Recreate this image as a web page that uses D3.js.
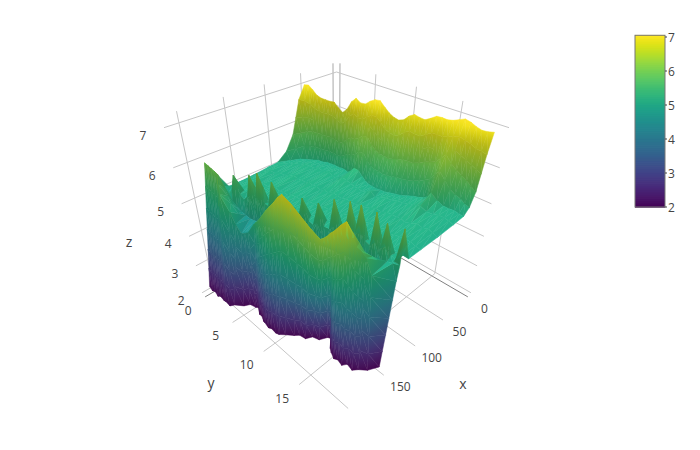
<!DOCTYPE html>
<html><head><meta charset="utf-8">
<script src="https://cdn.jsdelivr.net/npm/d3@7"></script>
<style>html,body{margin:0;padding:0;background:#fff}svg{display:block}text{font-family:"Open Sans",sans-serif;fill:#444}</style>
</head><body><svg id="c" width="700" height="450"></svg>
<script>
const yVals=[0,.5,1,1.5,2,2.5,3,3.5,4,4.5,5,5.5,6,6.5,7,7.5,8,8.5,9,9.5,10,10.5,11,11.5,12,12.5,13,13.5,14,14.5,15,15.5,16,16.5,17,17.5,18,18.5,19];
const xTicks=[0,50,100,150], xGrid=[0,50,100,150,200];
const yTicks=[0,5,10,15];
const zTicks=[2,3,4,5,6,7];
// back wall
const backX=[50,49,48,47,46,44.5,43.5,42,41,40,39,38,37,36,34.5,33.5,32.5,31,30,29,28,27,26,25,24,23,21.5,20.5,19,18,17,16,15,14,12.5,11.5,10.5,9.5,8];
const wallWidth=[45,32,22,18,15,13,12,11,11,12,13,14,16,18,20,22,22,23,25,27,28,29,30,30,30,28,27,25,24,24,24,27,31,28,26,25,24,26,28];
const wallFrac=[0,.2,.45,.7,1];
const wallZ0=[7.0,7.02,6.92,6.8,6.75,6.73,6.72,6.72,6.6,6.5,6.62,6.85,6.97,6.88,6.88,6.98,7.05,7.05,6.92,6.8,6.72,6.68,6.72,6.85,6.92,6.88,6.85,6.92,7.0,7.0,6.98,7.0,7.05,7.1,7.05,6.98,6.93,6.93,6.95];
const wallZ1=[6.65,6.62,6.55,6.45,6.4,6.38,6.37,6.36,6.28,6.2,6.3,6.48,6.58,6.5,6.5,6.6,6.68,6.66,6.55,6.42,6.36,6.32,6.36,6.48,6.54,6.5,6.48,6.55,6.62,6.62,6.6,6.64,6.68,6.72,6.66,6.6,6.52,6.5,6.45];
const wallZ2=[5.72,5.75,5.8,5.82,5.8,5.78,5.76,5.76,5.72,5.68,5.74,5.85,5.95,5.95,6.02,6.12,6.15,5.95,5.85,5.8,5.78,5.75,5.78,5.82,5.85,5.84,5.82,5.86,5.92,5.95,6.0,6.15,6.3,6.1,5.95,5.85,5.75,5.65,5.55];
const wallZ3=[5.3,5.35,5.4,5.42,5.4,5.38,5.36,5.36,5.34,5.32,5.35,5.42,5.5,5.52,5.6,5.72,5.75,5.55,5.45,5.42,5.4,5.38,5.38,5.4,5.42,5.4,5.4,5.42,5.46,5.52,5.6,5.78,5.95,5.72,5.5,5.4,5.32,5.25,5.2];
const wallZ4=[5.08,5.06,5.05,5.04,5.04,5.05,5.03,5.04,5.03,5.05,5.04,5.06,5.08,5.07,5.14,5.3,5.28,5.15,5.08,5.05,5.04,5.03,5.05,5.04,5.06,5.05,5.04,5.06,5.08,5.1,5.14,5.25,5.45,5.25,5.12,5.08,5.06,5.05,5.05];
// plateau
const plateauFrac=[.2,.5,.8,1];
const plateauA=[5.06,5.1,5.07,5.11,5.08,5.12,5.09,5.06,5.11,5.08,5.1,5.13,5.09,5.07,5.12,5.2,5.16,5.11,5.08,5.1,5.07,5.11,5.18,5.06,5.1,5.12,5.08,5.1,5.07,5.11,5.13,5.18,5.25,5.12,5.08,5.1,5.07,5.06,5.02];
const plateauB=[5.02,5.09,5.12,5.07,5.1,5.06,5.11,5.13,5.08,5.1,5.07,5.12,5.09,5.11,5.06,5.1,5.08,5.12,5.1,5.07,5.11,5.09,5.06,5.12,5.08,5.1,5.13,5.07,5.1,5.09,5.06,5.11,5.08,5.1,5.12,5.07,5.09,5.05,5.0];
const plateauC=[5.0,5.07,5.1,5.12,5.06,5.11,5.08,5.1,5.13,5.07,5.09,5.06,5.12,5.1,5.08,5.05,5.11,5.09,5.06,5.12,5.08,5.11,5.07,5.09,5.12,5.06,5.1,5.08,5.11,5.07,5.09,5.12,5.06,5.1,5.08,5.11,5.07,5.04,5.0];
const plateauD=[5.0,5.06,5.08,5.1,5.07,5.09,5.06,5.1,5.08,5.06,5.1,5.07,5.09,5.11,5.06,5.08,5.1,5.07,5.09,5.06,5.1,5.08,5.06,5.1,5.07,5.09,5.06,5.1,5.08,5.06,5.09,5.07,5.1,5.06,5.08,5.06,5.05,5.03,5.0];
// spike row
const spikeX=[172,171,170,169,168,167,166,165,164,163,162,161,160,158,157,155,154,152,150,149,147,146,144,143,141,140,139,138,137,136,135,135,134,134,133,133,132,132,131];
const spikeZ=[5.4,5.15,5.02,5.12,5.6,5.12,5.0,5.15,5.78,5.2,5.92,5.15,5.12,5.82,5.12,5.02,5.45,5.05,5.05,5.65,5.08,5.02,5.65,5.08,5.05,5.88,5.1,5.08,5.98,5.25,6.0,5.15,5.08,6.0,5.15,5.85,5.1,5.05,5.9];
const valleyX=[180,178,176,174,173,172,171,170,169,168,167,166,165,163,162,160,159,157,155,154,152,151,149,148,146,145,144,143,142,141,140,140,139,139,138,138,137,136,133];
const valleyZ=[5.7,5.5,5.3,5.1,4.9,4.8,4.7,4.65,4.6,4.6,4.6,4.6,4.6,4.6,4.6,4.6,4.6,4.6,4.6,4.6,4.6,4.6,4.6,4.6,4.6,4.6,4.6,4.6,4.6,4.6,4.6,4.65,4.7,4.8,4.9,4.95,5.0,5.02,5.0];
// front crest
const crestX=[185,185,185,185,185,190,194,192,191,190,189,189,188,191,194,195,196,197,198,197,196.5,197,198,199,200,199,198,197,196,195,192,190,187,180,175,169,164.5,163,136];
const crestY=[0,.5,1,1.5,2,2.6,3.2,4.2,4.7,5.3,5.7,6.3,7.2,8,8.8,9.5,10.2,10.9,11.6,12,12.45,13.4,14.35,15.1,15.8,16.6,16.85,17.1,17.3,17.5,17.6,17.7,17.95,17.9,17.9,17.95,18,18.5,19];
const crestZ=[5.9,5.88,5.85,5.83,5.8,5.65,5.5,5.1,4.8,4.6,4.65,4.75,5.1,5.3,5.5,5.72,5.95,6.15,6.35,6.5,6.62,6.55,6.45,6.38,6.32,6.2,6.25,6.32,6.4,6.45,6.5,6.55,6.62,6.3,5.9,5.7,5.5,5.1,4.6];
// front rim
const rimX=[207,207,207,207,207,206,207,206,203,195,190,187,187,190,191,193,195,195,195,194,194,190,183,180,177,172,168,161,161,168,172,174,174,174,172,171,168,161,150];
const rimZ=[2.2,2.12,2.2,2.1,2.2,2.1,2.18,2.1,2.18,2.1,2.16,2.1,2.18,2.08,2.14,2.08,2.16,2.08,2.16,2.08,2.14,2.16,2.1,2.16,2.08,2.16,2.08,2.14,2.2,2.1,2.14,2.08,2.16,2.08,2.2,2.08,2.16,2.1,2.1];

// ---------- grid rows ----------
const n=yVals.length;
const wallRows=[wallZ0,wallZ1,wallZ2,wallZ3,wallZ4].map((z,i)=>({x:backX.map((b,c)=>b+wallWidth[c]*wallFrac[i]),y:yVals,z}));
const plateauRows=[plateauA,plateauB,plateauC,plateauD].map((z,i)=>({x:backX.map((b,c)=>{const s=b+wallWidth[c];return s+(spikeX[c]-10-s)*plateauFrac[i];}),y:yVals,z}));
const rows=[...wallRows,...plateauRows,
 {x:spikeX,y:yVals,z:spikeZ},{x:valleyX,y:yVals,z:valleyZ},{x:crestX,y:crestY,z:crestZ},{x:rimX,y:yVals,z:rimZ}];

// ---------- camera ----------
const sx=d3.scaleLinear([-5.75,215],[-1,1]);
const sy=d3.scaleLinear([-.52,19.58],[-1,1]);
const sz=d3.scaleLinear([1.936,7.275],[-1,1]);
const CX=336.5,CY=217,F=465,D=4.33;
const s2=Math.SQRT2,s3=Math.sqrt(3),s6=Math.sqrt(6);
function proj(a,b,c){const d=D-(a+b+c)/s3;return [CX+F*((b-a)/s2)/d, CY-F*((2*c-a-b)/s6)/d, d];}
const P=(x,y,z)=>proj(sx(x),sy(y),sz(z));

const svg=d3.select('#c');
const defs=svg.append('defs');
const color=d3.scaleSequential(d3.interpolateViridis).domain([2,7.05]).clamp(true);

// ---------- grid lines ----------
const gridColor='#c6c6c6', wallZero='#a8a8a8', floorZero='#808080';
const lines=[];
const [xa,xb]=sx.domain(),[ya,yb]=sy.domain(),[za,zb]=sz.domain();
xGrid.forEach(v=>{
  lines.push([P(v,ya,za),P(v,yb,za),v===0?floorZero:gridColor]);
  lines.push([P(v,ya,za),P(v,ya,zb),v===0?wallZero:gridColor]);});
yTicks.forEach(v=>{
  lines.push([P(xa,v,za),P(xb,v,za),v===0?floorZero:gridColor]);
  lines.push([P(xa,v,za),P(xa,v,zb),v===0?wallZero:gridColor]);});
zTicks.forEach(v=>{
  lines.push([P(xb,ya,v),P(xa,ya,v),gridColor]);
  lines.push([P(xa,ya,v),P(xa,yb,v),gridColor]);});
svg.append('g').selectAll('line').data(lines).join('line')
 .attr('x1',d=>d[0][0]).attr('y1',d=>d[0][1]).attr('x2',d=>d[1][0]).attr('y2',d=>d[1][1])
 .attr('stroke',d=>d[2]).attr('stroke-width',1);

// ---------- surface ----------
const tris=[];
const lerp=(p,q,t)=>p+(q-p)*t;
const clamp01=v=>Math.max(0,Math.min(1,v));
function shade(z,nz){
  const rgb=d3.rgb(color(z));
  const f=.72+.36*nz;
  let s=1-f,fr=1,fg=1,fb=1;
  if(s<0){fr=fg=fb=1-s;}
  else{
    s*=(.4+.6*clamp01((z-4)/1.5))*clamp01((7-z)/.35);
    fr=1-.5*s;fg=1-s;fb=1-1.6*s;
  }
  return `rgb(${Math.min(255,Math.round(rgb.r*fr))},${Math.min(255,Math.round(rgb.g*fg))},${Math.min(255,Math.round(rgb.b*fb))})`;
}
const normalZ=(p0,p1,p2)=>{
  const u=[p1[0]-p0[0],p1[1]-p0[1],p1[2]-p0[2]],v=[p2[0]-p0[0],p2[1]-p0[1],p2[2]-p0[2]];
  const nv=[u[1]*v[2]-u[2]*v[1],u[2]*v[0]-u[0]*v[2],u[0]*v[1]-u[1]*v[0]];
  return Math.abs(nv[2])/(Math.hypot(...nv)||1);
};
const toCube=p=>[sx(p[0]),sy(p[1]),sz(p[2])];
function quadNz(r,c){
  const A=rows[r],B=rows[r+1];
  const g=(R,i)=>toCube([R.x[i],R.y[i],R.z[i]]);
  const a=g(A,c),b=g(A,c+1),e=g(B,c+1),h=g(B,c);
  return normalZ(a,e,[a[0]+h[0]-b[0],a[1]+h[1]-b[1],a[2]+h[2]-b[2]]);
}
const lastRow=rows.length-2, wallLast=3;
function addTri(q,fixedNz){
  const cube=q.map(toCube);
  const nz=fixedNz!=null?fixedNz:normalZ(cube[0],cube[1],cube[2]);
  const scr=cube.map(p=>proj(p[0],p[1],p[2]));
  tris.push({scr,zs:q.map(p=>p[2]),nz,depth:d3.mean(scr,p=>p[2])});
}
for(let r=0;r<rows.length-1;r++){
  const A=rows[r],B=rows[r+1];
  for(let c=0;c<n-1;c++){
    const dz=Math.max(Math.abs(A.z[c]-B.z[c]),Math.abs(A.z[c+1]-B.z[c+1]));
    const m=Math.max(1,Math.min(6,Math.ceil(dz/.7)));
    let fixed=null;
    if(r===lastRow) fixed=.2;
    else if(r<=wallLast){
      const ids=[c-1,c,c+1].filter(i=>i>=0&&i<n-1);
      fixed=d3.mean(ids,i=>quadNz(r,i));
    }
    for(let k=0;k<m;k++){
      const t0=k/m,t1=(k+1)/m;
      const pt=(col,t)=>[lerp(A.x[col],B.x[col],t),lerp(A.y[col],B.y[col],t),lerp(A.z[col],B.z[col],t)];
      const a=pt(c,t0),b=pt(c+1,t0),e=pt(c+1,t1),g=pt(c,t1);
      addTri([a,b,e],fixed);addTri([a,e,g],fixed);
    }
  }
}
tris.sort((p,q)=>q.depth-p.depth);
const surf=svg.append('g');
tris.forEach((t,i)=>{
  const [p0,p1,p2]=t.scr;
  const zmin=d3.min(t.zs),zmax=d3.max(t.zs);
  const d='M'+t.scr.map(p=>p[0].toFixed(2)+','+p[1].toFixed(2)).join('L')+'Z';
  const x1=p1[0]-p0[0],y1=p1[1]-p0[1],x2=p2[0]-p0[0],y2=p2[1]-p0[1];
  const det=x1*y2-x2*y1;
  const dz1=t.zs[1]-t.zs[0],dz2=t.zs[2]-t.zs[0];
  let paint;
  if(Math.abs(det)<.01||zmax-zmin<.02){
    paint=shade((zmin+zmax)/2,t.nz);
  }else{
    const gx=(dz1*y2-dz2*y1)/det,gy=(x1*dz2-x2*dz1)/det;
    const g2=gx*gx+gy*gy;
    const im=t.zs.indexOf(zmin);
    const st=t.scr[im];
    const id='g'+i;
    const lg=defs.append('linearGradient').attr('id',id).attr('gradientUnits','userSpaceOnUse')
      .attr('x1',st[0].toFixed(2)).attr('y1',st[1].toFixed(2))
      .attr('x2',(st[0]+gx*(zmax-zmin)/g2).toFixed(2)).attr('y2',(st[1]+gy*(zmax-zmin)/g2).toFixed(2));
    const k=Math.max(1,Math.ceil((zmax-zmin)/.2));
    d3.range(k+1).forEach(j=>{
      const z=zmin+(zmax-zmin)*j/k;
      lg.append('stop').attr('offset',(j/k).toFixed(3)).attr('stop-color',shade(z,t.nz));
    });
    paint=`url(#${id})`;
  }
  surf.append('path').attr('d',d).attr('fill',paint).attr('stroke',paint).attr('stroke-width',.5).attr('stroke-linejoin','round');
});

// ---------- tick labels ----------
const lab=svg.append('g').attr('font-size',12).attr('text-anchor','middle');
xTicks.forEach(v=>{const p=P(v,yb,za);lab.append('text').attr('x',p[0]+16.5).attr('y',p[1]+16).text(v);});
yTicks.forEach(v=>{const p=P(xb,v,za);lab.append('text').attr('x',p[0]-17).attr('y',p[1]+18).text(v);});
zTicks.forEach(v=>{const p=P(xb,ya,v);lab.append('text').attr('x',p[0]-21).attr('y',p[1]+12).text(v);});
const titles=svg.append('g').attr('font-size',14).attr('text-anchor','middle');
titles.append('text').attr('x',463).attr('y',389).text('x');
titles.append('text').attr('x',211).attr('y',388).text('y');
titles.append('text').attr('x',129).attr('y',247).text('z');

// ---------- colour bar ----------
const barY=d3.scaleLinear([2,7],[207,37]);
const bar=svg.append('g');
const barSteps=d3.range(2,7.06,.02);
bar.selectAll('rect').data(barSteps).join('rect')
 .attr('x',635).attr('width',30).attr('y',d=>barY(d)-.7).attr('height',1.4).attr('fill',d=>color(d));
bar.append('rect').attr('x',635).attr('y',barY(7.05)).attr('width',30).attr('height',barY(2)-barY(7.05))
 .attr('fill','none').attr('stroke','#777').attr('stroke-width',1);
zTicks.forEach(v=>{
  bar.append('line').attr('x1',665).attr('x2',667).attr('y1',barY(v)).attr('y2',barY(v)).attr('stroke','#444');
  bar.append('text').attr('x',668).attr('y',barY(v)+4.5).attr('font-size',12).text(v);
});
</script></body></html>
